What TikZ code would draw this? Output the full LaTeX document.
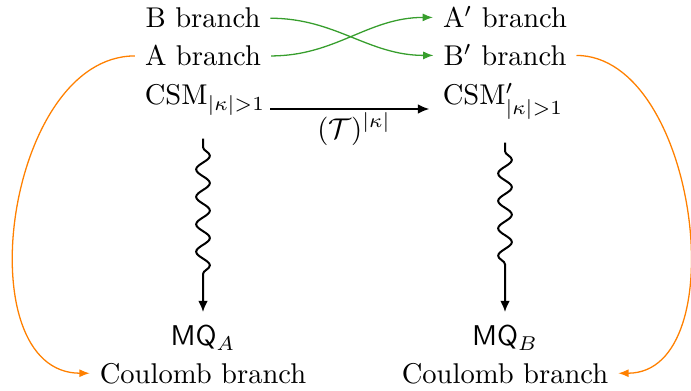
\documentclass[tikz,border=0pt]{standalone}
\usetikzlibrary{arrows.meta,decorations.pathmorphing,calc}
\definecolor{brgreen}{RGB}{55,158,45}
\definecolor{brorange}{RGB}{255,128,0}
\begin{document}
\begin{tikzpicture}[x=0.35pt,y=-0.35pt,
  lbl/.style={anchor=base},
  mainarrow/.style={line width=0.7pt,-{Latex[length=4pt,width=3.4pt]}},
  squig/.style={line width=0.7pt,-{Latex[length=4pt,width=3.4pt]},
    decorate,decoration={snake,amplitude=2.4pt,segment length=9.6pt,pre length=3pt,post length=12pt}},
  greenarrow/.style={brgreen,line width=0.45pt,-{Latex[length=3.6pt,width=2.8pt]}},
  orangearrow/.style={brorange,line width=0.45pt,-{Latex[length=3.6pt,width=2.8pt]}}]
\useasboundingbox (0,0) rectangle (691,391);
\node[lbl] (bb) at (203,28) {B branch};
\node[lbl] (ab) at (203,66) {A branch};
\node[lbl] (apb) at (505,28) {A$'$ branch};
\node[lbl] (bpb) at (505,66) {B$'$ branch};
\node[lbl,inner sep=1.5pt] (csm) at (205,105) {CSM$_{|\kappa|>1}$};
\node[lbl,inner sep=1.5pt] (csmp) at (503,105) {CSM$'_{|\kappa|>1}$};
\node[lbl] (mqa) at (203,345) {$\mathsf{MQ}_A$};
\node[lbl] (mqb) at (505,345) {$\mathsf{MQ}_B$};
\node[lbl] (ca) at (203,383) {Coulomb branch};
\node[lbl] (cb) at (505,383) {Coulomb branch};
% green crossing arrows
\draw[greenarrow] (bb.east) to[out=0,in=180] (bpb.west);
\draw[greenarrow] (ab.east) to[out=0,in=180] (apb.west);
% horizontal arrow
\draw[mainarrow,shorten >=3pt] ([yshift=-1.4pt]csm.base east) -- node[midway,anchor=base,yshift=-10.2pt] (tl) {$(\mathcal{T})^{|\kappa|}$} ([yshift=-1.4pt]csmp.base west);
% squiggly arrows
\draw[squig] ($(mqa.north |- csm.south)+(0,-6.5pt)$) -- ([yshift=1pt]mqa.north);
\draw[squig] ($(mqb.north |- csmp.south)+(0,-6.5pt)$) -- ([yshift=1pt]mqb.north);
% orange arrows
\draw[orangearrow] (ab.west) .. controls (5,56) and (-35,373) .. (ca.west);
\draw[orangearrow] (bpb.east) .. controls (698,56) and (736,373) .. (cb.east);
\end{tikzpicture}
\end{document}
